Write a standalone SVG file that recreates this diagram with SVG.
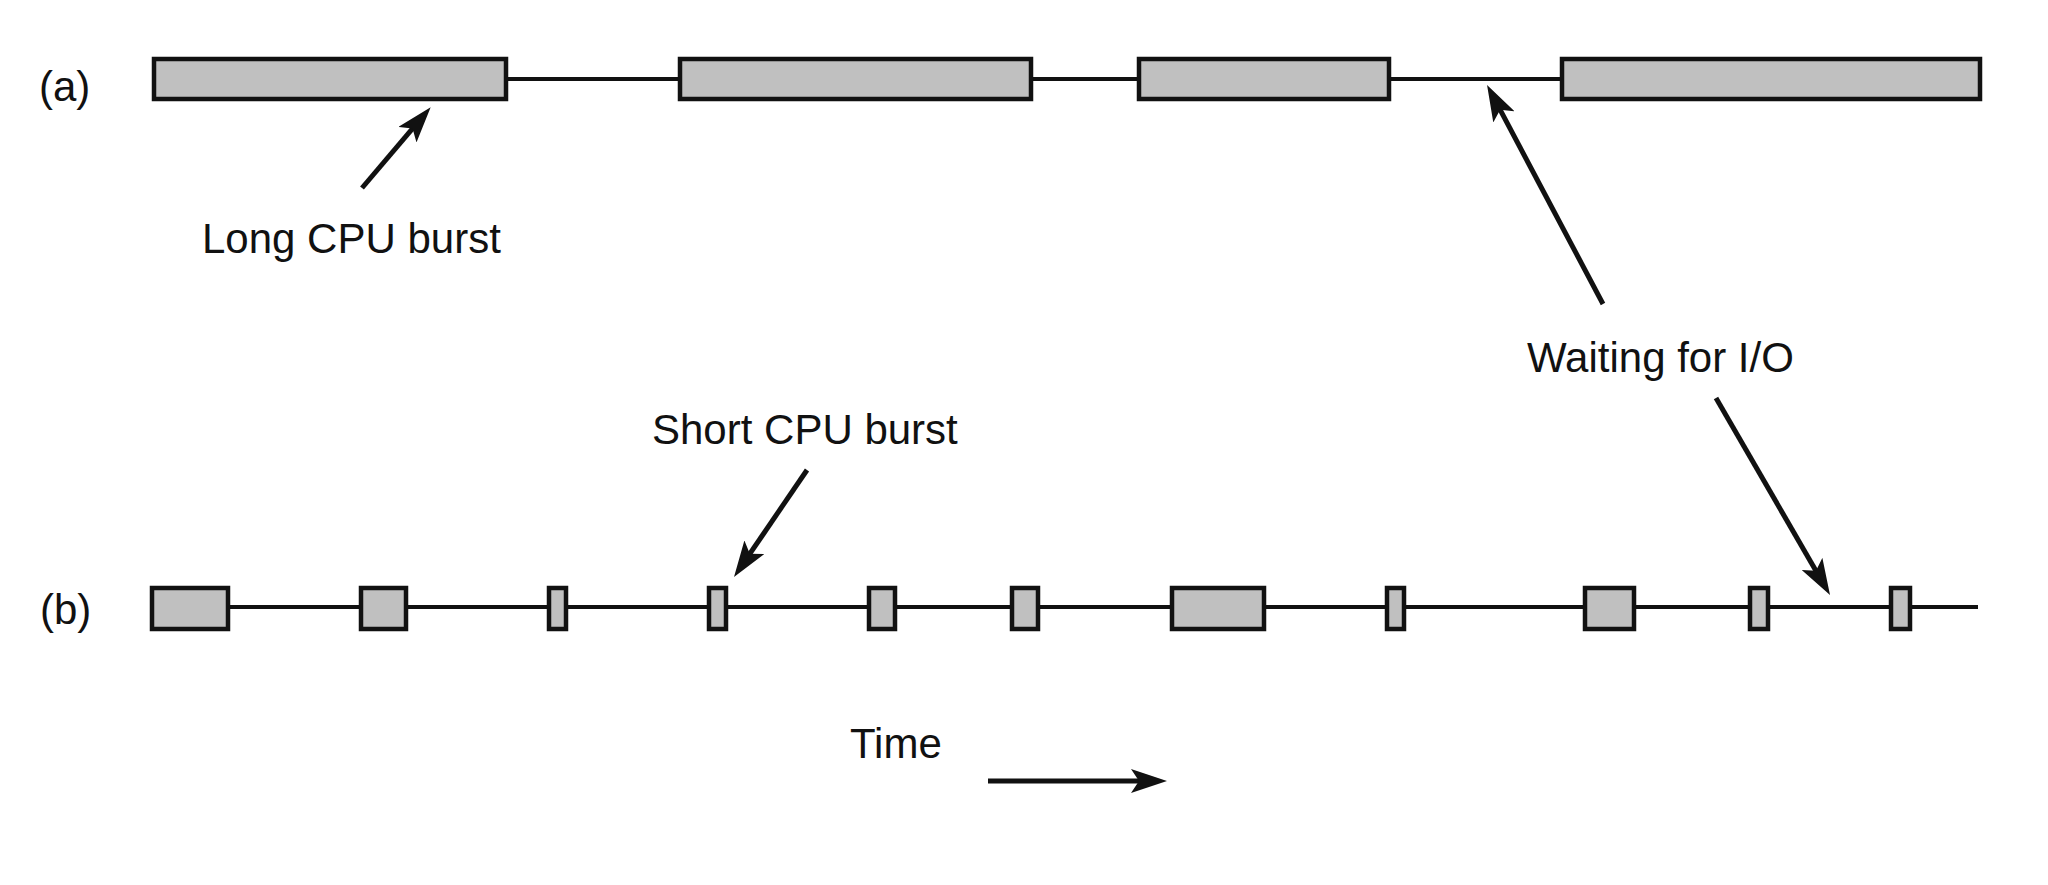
<svg xmlns="http://www.w3.org/2000/svg" width="2048" height="885" viewBox="0 0 2048 885">
<style>
  .burst { fill: #c0c0c0; stroke: #111; stroke-width: 4.5; }
  .wait { stroke: #111; stroke-width: 4; fill: none; }
  .arrow { stroke: #111; stroke-width: 5; fill: none; marker-end: url(#head); }
  .lbl { font-family: "Liberation Sans", Arial, sans-serif; font-size: 42px; fill: #111; }
</style>
<defs>
  <marker id="head" markerUnits="userSpaceOnUse" viewBox="0 0 36 24" refX="22" refY="12" markerWidth="36" markerHeight="24" orient="auto">
    <path d="M0,0 L36,12 L0,24 L8,12 Z" fill="#111"/>
  </marker>
</defs>
<rect width="2048" height="885" fill="#ffffff"/>

<g id="labels">
  <text class="lbl" x="39" y="101">(a)</text>
  <text class="lbl" x="40" y="624">(b)</text>
</g>

<g id="row-a">
  <line class="wait" x1="506" y1="79" x2="1562" y2="79"/>
  <rect id="a1" class="burst" x="154" y="59" width="352" height="40"/>
  <rect id="a2" class="burst" x="680" y="59" width="351" height="40"/>
  <rect id="a3" class="burst" x="1139" y="59" width="250" height="40"/>
  <rect id="a4" class="burst" x="1562" y="59" width="418" height="40"/>
</g>

<g id="row-b">
  <line class="wait" x1="228" y1="607" x2="1978" y2="607"/>
  <rect id="b1" class="burst" x="152" y="588" width="76" height="41"/>
  <rect id="b2" class="burst" x="361" y="588" width="45" height="41"/>
  <rect id="b3" class="burst" x="549" y="588" width="17" height="41"/>
  <rect id="b4" class="burst" x="709" y="588" width="17" height="41"/>
  <rect id="b5" class="burst" x="869" y="588" width="26" height="41"/>
  <rect id="b6" class="burst" x="1012" y="588" width="26" height="41"/>
  <rect id="b7" class="burst" x="1172" y="588" width="92" height="41"/>
  <rect id="b8" class="burst" x="1387" y="588" width="17" height="41"/>
  <rect id="b9" class="burst" x="1585" y="588" width="49" height="41"/>
  <rect id="b10" class="burst" x="1750" y="588" width="18" height="41"/>
  <rect id="b11" class="burst" x="1891" y="588" width="19" height="41"/>
</g>

<g id="long-cpu-label">
  <text class="lbl" x="202" y="253">Long CPU burst</text>
</g>
<g id="short-cpu-label">
  <text class="lbl" x="652" y="444">Short CPU burst</text>
</g>
<g id="waiting-label">
  <text class="lbl" x="1527" y="372">Waiting for I/O</text>
</g>
<g id="time-label">
  <text class="lbl" x="850" y="758">Time</text>
</g>

<g id="connectors">
  <line class="arrow" x1="362" y1="188" x2="421.6" y2="117.9"/>
  <line class="arrow" x1="1603" y1="304" x2="1493.6" y2="97.4"/>
  <line class="arrow" x1="1716" y1="398" x2="1823" y2="582.9"/>
  <line class="arrow" x1="807" y1="470" x2="741.9" y2="565.4"/>
  <line class="arrow" x1="988" y1="781" x2="1153" y2="781"/>
</g>
</svg>
